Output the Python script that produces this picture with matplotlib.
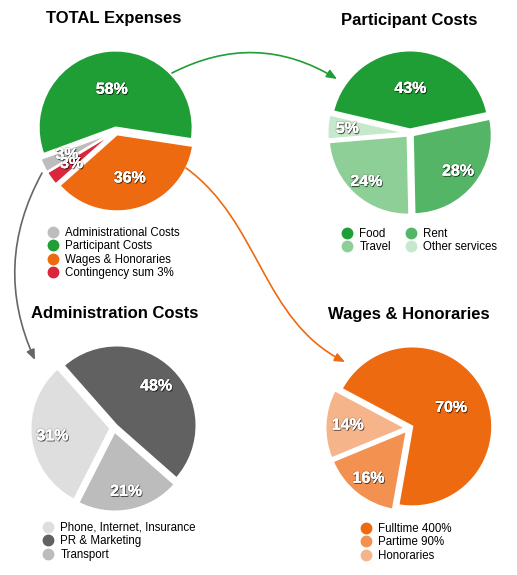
import matplotlib
matplotlib.use("Agg")
import matplotlib.pyplot as plt
import matplotlib.patheffects as pe
import numpy as np
from matplotlib.lines import Line2D
from matplotlib.patches import FancyArrowPatch
from matplotlib.path import Path

plt.rcParams['font.family'] = ['Liberation Sans', 'DejaVu Sans']

# Data
total_labels = ['Administrational Costs', 'Participant Costs',
                'Wages & Honoraries', 'Contingency sum 3%']
total_values = [3, 58, 36, 3]

participant_labels = ['Food', 'Rent', 'Travel', 'Other services']
participant_values = [43, 28, 24, 5]

admin_labels = ['Phone, Internet, Insurance', 'PR & Marketing', 'Transport']
admin_values = [31, 48, 21]

wages_labels = ['Fulltime 400%', 'Partime 90%', 'Honoraries']
wages_values = [70, 16, 14]

# Styles
TOTAL_COLORS = ['#bdbdbd', '#1f9e36', '#ee6a10', '#d9263b']
PART_COLORS = ['#1f9e36', '#55b567', '#8ecf98', '#c6e8cb']
ADMIN_COLORS = ['#dedede', '#616161', '#bcbcbc']
WAGES_COLORS = ['#ee6a10', '#f29150', '#f5b489']

W, H = 517, 575
fig = plt.figure(figsize=(W / 100, H / 100), dpi=100)
fig.patch.set_facecolor('white')

SHADOW = [pe.withSimplePatchShadow(offset=(0.7, -0.9), shadow_rgbFace='black', alpha=0.55),
          pe.withStroke(linewidth=1.2, foreground=(0, 0, 0, 0.18)),
          pe.Normal()]


def px(x, y):
    return (x / W, 1 - y / H)


def draw_pie(cx, cy, r, values, colors, startangle, label_dist):
    span = 1.35
    ax = fig.add_axes([(cx - span * r) / W, 1 - (cy + span * r) / H,
                       2 * span * r / W, 2 * span * r / H])
    wedges, _, autotexts = ax.pie(
        values, colors=colors, startangle=startangle, counterclock=False,
        explode=[0.045] * len(values), autopct=lambda p: f'{p:.0f}%',
        wedgeprops={'edgecolor': 'white', 'linewidth': 1.5},
        textprops={'color': 'white', 'fontsize': 11.5, 'fontweight': 'bold'},
    )
    for w, t, d in zip(wedges, autotexts, label_dist):
        theta = np.radians((w.theta1 + w.theta2) / 2)
        x0, y0 = w.center
        t.set_position((x0 + d * w.r * np.cos(theta), y0 + d * w.r * np.sin(theta)))
        t.set_path_effects(SHADOW)
    ax.set_xlim(-span, span)
    ax.set_ylim(-span, span)
    ax.set_axis_off()
    return ax


def add_legend(labels, colors, x, y, ncol=1, order=None):
    handles = [Line2D([], [], marker='o', linestyle='', markersize=7.5,
                      markerfacecolor=c, markeredgecolor=c) for c in colors]
    if order is not None:
        handles = [handles[i] for i in order]
        labels = [labels[i] for i in order]
    fig.legend(handles, labels, loc='upper left', bbox_to_anchor=px(x, y),
               frameon=False, fontsize=8.3, ncol=ncol, borderpad=0,
               borderaxespad=0, handlelength=1.0, handletextpad=0.6,
               labelspacing=0.13, columnspacing=1.2)


def title(text, x, y):
    fig.text(*px(x, y), text, ha='center', va='center',
             fontsize=12, fontweight='bold', color='black')


# Pies
draw_pie(116, 131, 77, total_values, TOTAL_COLORS, 210.9, [0.66, 0.5, 0.59, 0.67])
draw_pie(410, 133, 79, participant_values, PART_COLORS, 166.8, [0.52, 0.73, 0.78, 0.75])
draw_pie(114, 428, 80, admin_values, ADMIN_COLORS, 243, [0.73, 0.7, 0.76])
draw_pie(409, 428, 80, wages_values, WAGES_COLORS, 152, [0.54, 0.76, 0.72])

# Titles
title('TOTAL Expenses', 114, 18)
title('Participant Costs', 409, 20)
title('Administration Costs', 115, 313)
title('Wages & Honoraries', 409, 315)

# Legends
add_legend(total_labels, TOTAL_COLORS, 47, 227)
add_legend(participant_labels, PART_COLORS, 341, 228, ncol=2, order=[0, 2, 1, 3])
add_legend(admin_labels, ADMIN_COLORS, 42, 522)
add_legend(wages_labels, WAGES_COLORS, 360, 523)

# Arrows
head = '-|>,head_length=0.6,head_width=0.25'
fig.add_artist(FancyArrowPatch(px(172, 73), px(337, 79), connectionstyle='arc3,rad=-0.28',
                               arrowstyle=head, mutation_scale=10, color='#1f9e36',
                               lw=1.2, transform=fig.transFigure, shrinkA=0, shrinkB=0))
fig.add_artist(FancyArrowPatch(px(42, 173), px(35, 360), connectionstyle='arc3,rad=0.25',
                               arrowstyle=head, mutation_scale=10, color='#666666',
                               lw=1.2, transform=fig.transFigure, shrinkA=0, shrinkB=0))
orange_path = Path([px(186, 168), px(260, 222), px(262, 320), px(345, 362)],
                   [Path.MOVETO, Path.CURVE4, Path.CURVE4, Path.CURVE4])
fig.add_artist(FancyArrowPatch(path=orange_path, arrowstyle=head, mutation_scale=10,
                               color='#ee6a10', lw=1.2, transform=fig.transFigure))

fig.savefig('out.png', dpi=100, facecolor='white')
